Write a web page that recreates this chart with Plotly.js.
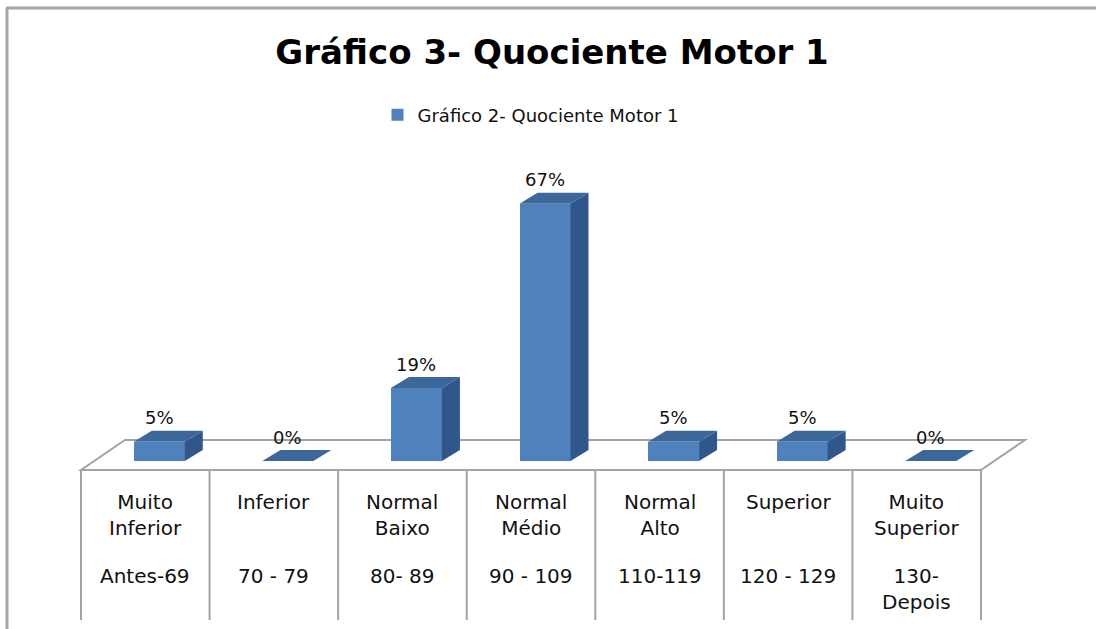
<!DOCTYPE html>
<html>
<head>
<meta charset="utf-8">
<script src="https://cdn.plot.ly/plotly-3.0.1.min.js"></script>
<style>
  html, body { margin: 0; padding: 0; background: #ffffff; }
  #chart { width: 1096px; height: 629px; }
</style>
</head>
<body>
<div id="chart"></div>
<script>
// ---- data ----
const categoryNames = ["Muito<br>Inferior", "Inferior", "Normal<br>Baixo", "Normal<br>Médio", "Normal<br>Alto", "Superior", "Muito<br>Superior"];
const categoryRanges = ["Antes-69", "70 - 79", "80- 89", "90 - 109", "110-119", "120 - 129", "130-<br>Depois"];
const values = [5, 0, 19, 67, 5, 5, 0];
const seriesName = "Gráfico 2- Quociente Motor 1";
const chartTitle = "Gráfico 3- Quociente Motor 1";

// ---- geometry (pixels -> axis units) ----
const W = 1096, H = 629;
const FRONT_LEFT_PX = 81;        // front-left corner of the floor
const CELL_PX = 128.57;          // width of one category
const BASE_PX = 461;             // pixel row of value 0 (bar bottoms)
const PX_PER_UNIT = 3.84;        // pixels per percent
const toY = px => (BASE_PX - px) / PX_PER_UNIT;
const dxU = px => px / CELL_PX;
const dyU = px => px / PX_PER_UNIT;

const xRange = [-0.5 - FRONT_LEFT_PX / CELL_PX, -0.5 + (W - FRONT_LEFT_PX) / CELL_PX];
const yRange = [toY(H), toY(0)];

const BAR_OFFSET = dxU(14);   // bars sit a bit back inside the floor
const BAR_W = dxU(51);
const DEPTH_X = dxU(18);
const DEPTH_Y = dyU(11);

const FRONT = "#4f81bd", SIDE = "#30568a", TOP = "#3c679b";
const GRID = "#a3a3a3";
const FONT = "DejaVu Sans, Verdana, sans-serif";
const TXT = "#111111";

const centers = values.map((v, i) => i + BAR_OFFSET);

// side and top faces built from values through the axes
const sideX = [], sideY = [], topX = [], topY = [];
values.forEach((v, i) => {
  const l = centers[i] - BAR_W / 2, r = centers[i] + BAR_W / 2;
  sideX.push(r, r + DEPTH_X, r + DEPTH_X, r, null);
  sideY.push(0, DEPTH_Y, v + DEPTH_Y, v, null);
  topX.push(l, r, r + DEPTH_X, l + DEPTH_X, null);
  topY.push(v, v, v + DEPTH_Y, v + DEPTH_Y, null);
});

const traces = [
  {
    type: "bar", x: centers, y: values, width: BAR_W, name: seriesName,
    marker: { color: FRONT, line: { width: 0 } }, showlegend: true, hoverinfo: "skip"
  },
  {
    type: "scatter", mode: "lines", x: sideX, y: sideY, fill: "toself",
    fillcolor: SIDE, line: { width: 0, color: SIDE }, showlegend: false, hoverinfo: "skip"
  },
  {
    type: "scatter", mode: "lines", x: topX, y: topY, fill: "toself",
    fillcolor: TOP, line: { width: 0, color: TOP }, showlegend: false, hoverinfo: "skip"
  }
];

// floor and category cells
const floorFrontY = toY(470), floorBackY = toY(440), floorDX = dxU(44);
const cellBottomY = toY(620);
const n = values.length;
const shapes = [
  // outer frame
  { type: "line", xref: "paper", yref: "paper", x0: 6 / W, x1: 1, y0: 1 - 8 / H, y1: 1 - 8 / H, line: { color: "#a6a6a6", width: 3 } },
  { type: "line", xref: "paper", yref: "paper", x0: 7 / W, x1: 7 / W, y0: 0, y1: 1 - 8 / H, line: { color: "#a6a6a6", width: 3 } },
  // floor
  {
    type: "path", xref: "x", yref: "y", layer: "below",
    path: `M ${-0.5} ${floorFrontY} L ${n - 0.5} ${floorFrontY} L ${n - 0.5 + floorDX} ${floorBackY} L ${-0.5 + floorDX} ${floorBackY} Z`,
    line: { color: GRID, width: 2 }, fillcolor: "rgba(0,0,0,0)"
  }
];
for (let k = 0; k <= n; k++) {
  shapes.push({
    type: "line", xref: "x", yref: "y", layer: "below",
    x0: k - 0.5, x1: k - 0.5, y0: floorFrontY, y1: cellBottomY,
    line: { color: GRID, width: 2 }
  });
}

const annotations = [];
values.forEach((v, i) => {
  annotations.push({
    x: centers[i], y: v, xref: "x", yref: "y", yshift: 24, yanchor: "middle",
    text: v + "%", showarrow: false, font: { family: FONT, size: 18, color: TXT }
  });
  annotations.push({
    x: i, y: toY(488), xref: "x", yref: "y", yanchor: "top", align: "center",
    text: categoryNames[i], showarrow: false, font: { family: FONT, size: 20, color: TXT }
  });
  annotations.push({
    x: i, y: toY(562), xref: "x", yref: "y", yanchor: "top", align: "center",
    text: categoryRanges[i], showarrow: false, font: { family: FONT, size: 20, color: TXT }
  });
});

const layout = {
  width: W, height: H,
  margin: { l: 0, r: 0, t: 0, b: 0, pad: 0 },
  paper_bgcolor: "#ffffff", plot_bgcolor: "#ffffff",
  title: {
    text: "<b>" + chartTitle + "</b>", x: 552 / W, xanchor: "center",
    y: 1 - 52 / H, yanchor: "middle", yref: "container",
    font: { family: FONT, size: 34, color: "#000000" }
  },
  showlegend: true,
  legend: {
    orientation: "h", x: 531 / W, xanchor: "center", y: 1 - 115 / H, yanchor: "middle",
    font: { family: FONT, size: 18, color: TXT }, bgcolor: "rgba(0,0,0,0)"
  },
  xaxis: { range: xRange, visible: false, fixedrange: true },
  yaxis: { range: yRange, visible: false, fixedrange: true },
  shapes: shapes,
  annotations: annotations,
  bargap: 0
};

Plotly.newPlot("chart", traces, layout, { staticPlot: true, displayModeBar: false });
</script>
</body>
</html>
